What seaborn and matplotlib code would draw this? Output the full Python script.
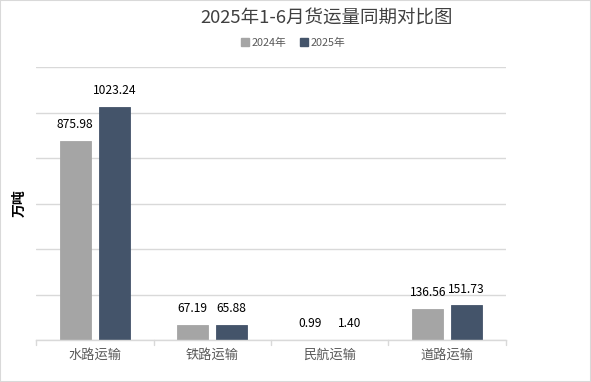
import pandas as pd
import seaborn as sns
import matplotlib.pyplot as plt
from matplotlib.lines import Line2D
from matplotlib.patches import Rectangle

# chart data
categories = ['水路运输', '铁路运输', '民航运输', '道路运输']
years = ['2024年', '2025年']
values_2024 = [875.98, 67.19, 0.99, 136.56]
values_2025 = [1023.24, 65.88, 1.40, 151.73]

COLORS = ['#A5A5A5', '#44546A']

df = pd.DataFrame({
    'category': categories * 2,
    'year': [years[0]] * 4 + [years[1]] * 4,
    'value': values_2024 + values_2025,
})

sns.set_theme(style='white')
plt.rcParams['font.family'] = ['Noto Sans CJK SC', 'DejaVu Sans']

fig = plt.figure(figsize=(5.91, 3.82), dpi=100)
ax = fig.add_axes([36 / 591, 1 - 340 / 382, 470 / 591, 273 / 382])

sns.barplot(data=df, x='category', y='value', hue='year', palette=COLORS,
            width=0.664, gap=0.205, saturation=1, ax=ax, legend=False)

# thin outline in bar colour so the tiny bars still show
for cont, c in zip(ax.containers, COLORS):
    for bar in cont:
        bar.set_edgecolor(c)
        bar.set_linewidth(0.6)

# value labels above bars
for cont in ax.containers:
    ax.bar_label(cont, fmt='%.2f', padding=7, fontsize=8.7, color='#000000')

ax.set_ylim(0, 1200)
ax.set_xlim(-0.5, 3.5)
ax.set_yticks(range(0, 1201, 200))
ax.yaxis.grid(True, color='#D9D9D9', linewidth=1)
ax.set_axisbelow(True)
ax.tick_params(axis='y', left=False, labelleft=False)
ax.tick_params(axis='x', colors='#595959', labelsize=9.5, length=0, pad=6)
for s in ['left', 'right', 'top']:
    ax.spines[s].set_visible(False)
ax.spines['bottom'].set_color('#D9D9D9')
ax.spines['bottom'].set_linewidth(1)

# category separator ticks
for xpos in [-0.5, 0.5, 1.5, 2.5, 3.5]:
    ax.plot([xpos, xpos], [0, -0.018], transform=ax.get_xaxis_transform(),
            color='#D9D9D9', linewidth=1, clip_on=False)

ax.set_xlabel('')
ax.set_ylabel('万吨', fontsize=10, fontweight='bold', color='#000000', labelpad=7)

fig.text(327 / 591, 1 - 19 / 382, '2025年1-6月货运量同期对比图', ha='center', va='center',
         fontsize=13.3, color='#404040')

handles = [Line2D([], [], marker='s', linestyle='', markersize=6,
                  markerfacecolor=c, markeredgecolor=c) for c in COLORS]
fig.legend(handles, years, loc='center', bbox_to_anchor=(293 / 591, 1 - 43 / 382),
           ncol=2, frameon=False, fontsize=7.8, handletextpad=0.2, columnspacing=1.2,
           labelcolor='#595959', handlelength=0.8)

# light border around the chart
fig.patches.append(Rectangle((0, 0), 1, 1, transform=fig.transFigure, fill=False,
                             edgecolor='#D9D9D9', linewidth=1.5))

fig.savefig('out.png', dpi=100)
